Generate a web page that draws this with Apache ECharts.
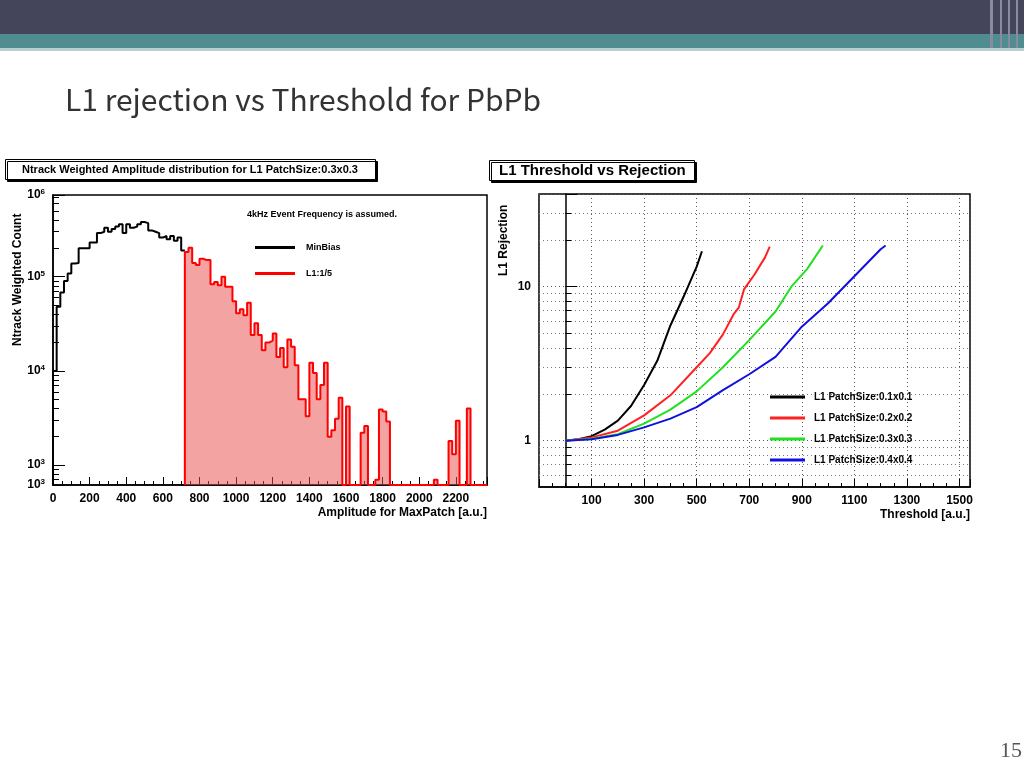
<!DOCTYPE html>
<html><head><meta charset="utf-8">
<script src="https://cdn.jsdelivr.net/npm/echarts@6/dist/echarts.min.js"></script>
<style>html,body{margin:0;padding:0;background:#fff}#c{width:1024px;height:768px}</style>
</head><body><div id="c"></div>
<script>
// ---- Left histogram data (bin width 20) ----
const binWidth = 20;
const minBiasStart = 0;
const minBiasValues = [10000,48000,68000,90000,108000,138000,140000,200000,200000,200000,230000,230000,290000,300000,330000,300000,320000,340000,360000,290000,360000,330000,340000,360000,380000,370000,310000,300000,290000,260000,270000,250000,270000,240000,260000,190000];
const l1Start = 720;
const l1Values = [183000,203000,140000,133000,155000,150000,150000,83000,88000,81000,100000,78000,78000,55000,41000,45000,39000,53000,24000,32000,24000,16600,20000,21000,25000,14000,17500,10900,21500,18000,11500,5000,5000,3300,12200,9500,5000,7100,12200,2000,2350,3100,5200,0,4200,0,0,0,2200,2600,0,0,700,3900,3700,2900,0,0,0,0,0,0,0,0,0,0,0,0,700,0,0,0,1800,1300,2950,0,0,4000,0,0,0,0,0];
const histXTicks = [0,200,400,600,800,1000,1200,1400,1600,1800,2000,2200];
// ---- Right curves ----
const curve01 = [[0,1],[50,1.02],[100,1.07],[150,1.18],[200,1.35],[250,1.68],[300,2.3],[350,3.3],[400,5.6],[450,8.6],[500,13.5],[520,17]];
const curve02 = [[0,1],[100,1.05],[200,1.16],[300,1.46],[400,1.97],[500,3.0],[550,3.7],[600,4.9],[640,6.6],[660,7.3],[680,9.6],[720,12],[760,15.5],[778,18.2]];
const curve03 = [[0,1],[100,1.03],[200,1.1],[300,1.29],[400,1.59],[500,2.09],[600,3.0],[700,4.5],[800,6.9],[860,10],[920,13],[980,18.5]];
const curve04 = [[0,1],[100,1.02],[200,1.09],[300,1.22],[400,1.39],[500,1.65],[600,2.13],[700,2.7],[800,3.5],[900,5.5],[1000,7.8],[1100,11.7],[1200,17.5],[1219,18.5]];
const curveNames = ['L1 PatchSize:0.1x0.1','L1 PatchSize:0.2x0.2','L1 PatchSize:0.3x0.3','L1 PatchSize:0.4x0.4'];

const HMIN = 615, HMAX = 736000, HXMAX = 2370;
function histPoints(start, vals, withLead){
  const pts = [];
  if (withLead) pts.push([start, HMIN]);
  vals.forEach((v,i)=>pts.push([start+i*binWidth, Math.max(v,HMIN)]));
  pts.push([Math.min(start+vals.length*binWidth,HXMAX), Math.max(vals[vals.length-1],HMIN)]);
  return pts;
}
const F = '"Liberation Sans", Arial, sans-serif';
const sup = {b:{fontSize:12,fontWeight:'bold',fontFamily:F,color:'#000'}, s:{fontSize:8,fontWeight:'bold',fontFamily:F,color:'#000',verticalAlign:'top',padding:[0,0,6,0]}};
const chart = echarts.init(document.getElementById('c'));
const axLine = {show:true,lineStyle:{color:'#000',width:1.5}};
chart.setOption({
  backgroundColor:'#fff',
  animation:false,
  title:[
    {text:'L1 rejection vs Threshold for PbPb',left:60,top:80,textStyle:{fontFamily:'"Noto Sans CJK JP","Noto Sans",sans-serif',fontSize:30,fontWeight:'normal',color:'#333'}},
    {text:'Ntrack Weighted Amplitude distribution for L1 PatchSize:0.3x0.3',left:5,top:159,padding:[5,18,5,17],borderColor:'#000',borderWidth:1,shadowColor:'#000',shadowOffsetX:2,shadowOffsetY:2,backgroundColor:'#fff',textStyle:{fontFamily:F,fontSize:11,fontWeight:'bold',color:'#000'}},
    {text:'L1 Threshold vs Rejection',left:489,top:160,padding:[3,9,3,10],borderColor:'#000',borderWidth:1,shadowColor:'#000',shadowOffsetX:2,shadowOffsetY:2,backgroundColor:'#fff',textStyle:{fontFamily:F,fontSize:15,fontWeight:'bold',color:'#000'}}
  ],
  graphic:[
    {type:'rect',shape:{x:0,y:0,width:1024,height:34},style:{fill:'#44445a'}},
    {type:'rect',shape:{x:0,y:34,width:1024,height:14},style:{fill:'#4f8d90'}},
    {type:'rect',shape:{x:0,y:48,width:1024,height:3},style:{fill:'#b8cfd0'}},
    {type:'rect',shape:{x:990,y:0,width:3,height:48},style:{fill:'#8a8aa0'}},
    {type:'rect',shape:{x:1000,y:0,width:2,height:48},style:{fill:'#8a8aa0'}},
    {type:'rect',shape:{x:1008,y:0,width:2,height:48},style:{fill:'#8a8aa0'}},
    {type:'rect',shape:{x:1016,y:0,width:2,height:48},style:{fill:'#8a8aa0'}},
    {type:'text',x:1000,y:740,style:{text:'15',font:'22px "Liberation Serif", serif',fill:'#555'}},
    {type:'text',x:247,y:210,style:{text:'4kHz Event Frequency is assumed.',font:'bold 9px "Liberation Sans", Arial',fill:'#000'}},
    {type:'text',x:12,y:346,rotation:Math.PI/2,style:{text:'Ntrack Weighted Count',font:'bold 12px "Liberation Sans", Arial',fill:'#000'}},
    {type:'text',x:498,y:276,rotation:Math.PI/2,style:{text:'L1 Rejection',font:'bold 12px "Liberation Sans", Arial',fill:'#000'}}
  ],
  legend:[
    {data:['MinBias','L1:1/5'],orient:'vertical',left:250,top:238,itemGap:17,itemWidth:40,itemHeight:3,icon:'rect',textStyle:{fontFamily:F,fontSize:9,fontWeight:'bold',color:'#000',padding:[0,0,0,6]}},
    {data:curveNames,orient:'vertical',left:765,top:387,itemGap:11,itemWidth:35,itemHeight:3,icon:'rect',textStyle:{fontFamily:F,fontSize:10,fontWeight:'bold',color:'#000',padding:[0,0,0,4]}}
  ],
  grid:[
    {left:53,top:195,width:434,height:290,show:true,borderColor:'#000',borderWidth:1.5},
    {left:539,top:194,width:431,height:293,show:true,borderColor:'#000',borderWidth:1.5}
  ],
  xAxis:[
    {gridIndex:0,type:'value',min:0,max:HXMAX,interval:200,axisLine:axLine,
     axisTick:{inside:true,length:8,lineStyle:{color:'#000'}},minorTick:{show:true,splitNumber:4,length:4,lineStyle:{color:'#000'}},
     splitLine:{show:false},
     axisLabel:{fontFamily:F,fontSize:12,fontWeight:'bold',color:'#000',formatter:v=>histXTicks.includes(v)?String(v):''},
     name:'Amplitude for MaxPatch [a.u.]',nameLocation:'end',nameGap:0,nameTextStyle:{fontFamily:F,fontSize:12,fontWeight:'bold',color:'#000',align:'right',verticalAlign:'top',padding:[22,0,0,0]}},
    {gridIndex:1,type:'value',min:-100,max:1540,interval:200,axisLine:axLine,
     axisTick:{inside:true,length:8,lineStyle:{color:'#000'}},minorTick:{show:true,splitNumber:4,length:4,lineStyle:{color:'#000'}},
     splitLine:{show:true,lineStyle:{color:'#555',type:[1,3],width:1}},
     axisLabel:{fontFamily:F,fontSize:12,fontWeight:'bold',color:'#000',formatter:v=>v<0?'':String(v)},
     name:'Threshold [a.u.]',nameLocation:'end',nameGap:0,nameTextStyle:{fontFamily:F,fontSize:12,fontWeight:'bold',color:'#000',align:'right',verticalAlign:'top',padding:[22,0,0,0]}}
  ],
  yAxis:[
    {gridIndex:0,type:'log',logBase:10,min:HMIN,max:HMAX,axisLine:axLine,
     axisTick:{inside:true,length:12,lineStyle:{color:'#000'}},minorTick:{show:true,splitNumber:9,length:6,lineStyle:{color:'#000'}},
     splitLine:{show:false},
     axisLabel:{rich:sup,formatter:v=>'{b|10}{s|'+Math.round(Math.log10(v))+'}'}},
    {gridIndex:1,type:'log',logBase:10,min:0.5,max:40,axisLine:axLine,
     axisTick:{inside:true,length:12,lineStyle:{color:'#000'}},minorTick:{show:true,splitNumber:9,length:6,lineStyle:{color:'#000'}},
     splitLine:{show:true,lineStyle:{color:'#555',type:[1,3]}},minorSplitLine:{show:true,lineStyle:{color:'#777',type:[1,3]}},
     axisLabel:{fontFamily:F,fontSize:12,fontWeight:'bold',color:'#000',formatter:v=>(Math.abs(Math.log10(v)-Math.round(Math.log10(v)))<1e-6)?String(Math.round(v)):''}}
  ],
  series:[
    {name:'MinBias',type:'line',xAxisIndex:0,yAxisIndex:0,step:'end',symbol:'none',color:'#000',lineStyle:{width:2,color:'#000'},data:histPoints(minBiasStart,minBiasValues,true)},
    {name:'L1:1/5',type:'line',xAxisIndex:0,yAxisIndex:0,step:'end',symbol:'none',color:'#ff0000',lineStyle:{width:2,color:'#ff0000'},areaStyle:{color:'rgba(235,80,80,0.75)',origin:'start'},data:histPoints(l1Start,l1Values,true)},
    {name:curveNames[0],type:'line',xAxisIndex:1,yAxisIndex:1,symbol:'none',color:'#000',lineStyle:{width:2},data:curve01},
    {name:curveNames[1],type:'line',xAxisIndex:1,yAxisIndex:1,symbol:'none',color:'#ff2020',lineStyle:{width:2},data:curve02},
    {name:curveNames[2],type:'line',xAxisIndex:1,yAxisIndex:1,symbol:'none',color:'#20e020',lineStyle:{width:2},data:curve03},
    {name:curveNames[3],type:'line',xAxisIndex:1,yAxisIndex:1,symbol:'none',color:'#1010e0',lineStyle:{width:2},data:curve04}
  ]
});
</script></body></html>
